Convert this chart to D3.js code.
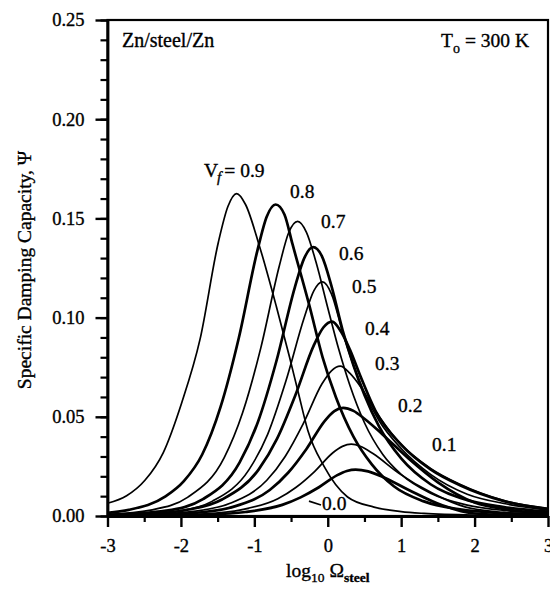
<!DOCTYPE html>
<html>
<head>
<meta charset="utf-8">
<script src="https://cdn.jsdelivr.net/npm/d3@7"></script>
<style>
  body { margin: 0; background: #fff; }
  svg text { font-family: "Liberation Serif", "Times New Roman", serif; fill: #000; stroke: #000; stroke-width: 0.35px; }
</style>
</head>
<body>
<div id="chart"></div>
<script>
// Specific damping capacity vs log10 Omega_steel, Zn/steel/Zn laminate
// values: [log10 Omega, Psi]

const vfLabels = ["0.9", "0.8", "0.7", "0.6", "0.5", "0.4", "0.3", "0.2", "0.1", "0.0"];

const vf90 = [[-3.0,0.0064],[-2.74,0.0102],[-2.49,0.018],[-2.24,0.032],[-1.99,0.057],[-1.74,0.089],[-1.49,0.138],[-1.36,0.156],[-1.24,0.1625],[-1.12,0.157],[-0.93,0.136],[-0.70,0.1056],[-0.52,0.080],[-0.40,0.062],[-0.27,0.043],[-0.05,0.025],[0.27,0.0096],[0.63,0.0045],[1.0,0.0022],[1.31,0.0013],[2.0,0.0005],[3.0,0.0002]];
const vf80 = [[-3.0,0.0016],[-2.71,0.0031],[-2.21,0.0099],[-1.96,0.0176],[-1.71,0.031],[-1.46,0.055],[-1.21,0.090],[-0.96,0.1335],[-0.83,0.151],[-0.71,0.157],[-0.59,0.152],[-0.48,0.137],[-0.25,0.106],[-0.07,0.080],[0.11,0.060],[0.35,0.040],[0.6,0.026],[0.9,0.015],[1.3,0.0075],[1.8,0.0033],[2.4,0.0014],[3.0,0.0006]];
const vf70 = [[-3.0,0.0008],[-2.41,0.003],[-1.91,0.0094],[-1.41,0.0294],[-1.16,0.052],[-0.91,0.085],[-0.66,0.126],[-0.53,0.143],[-0.41,0.1485],[-0.29,0.143],[-0.16,0.128],[0.0,0.105],[0.15,0.084],[0.3,0.066],[0.5,0.047],[0.75,0.031],[1.0,0.021],[1.4,0.0115],[1.9,0.0055],[2.4,0.0028],[3.0,0.0013]];
const vf60 = [[-3.0,0.0005],[-2.2,0.0027],[-1.7,0.0085],[-1.2,0.027],[-0.95,0.0475],[-0.70,0.078],[-0.45,0.115],[-0.32,0.130],[-0.20,0.1355],[-0.08,0.131],[0.05,0.116],[0.2,0.094],[0.35,0.076],[0.5,0.061],[0.7,0.045],[1.0,0.029],[1.4,0.016],[1.9,0.008],[2.4,0.0045],[3.0,0.0022]];
const vf50 = [[-3.0,0.0004],[-2.07,0.0024],[-1.57,0.0075],[-1.07,0.0235],[-0.82,0.041],[-0.57,0.068],[-0.32,0.100],[-0.19,0.1135],[-0.07,0.118],[0.05,0.112],[0.2,0.093],[0.35,0.076],[0.5,0.062],[0.7,0.048],[1.0,0.034],[1.4,0.021],[1.9,0.011],[2.4,0.0063],[3.0,0.003]];
const vf40 = [[-3.0,0.0004],[-2.44,0.0011],[-1.94,0.0029],[-1.44,0.0083],[-0.94,0.0235],[-0.69,0.039],[-0.44,0.061],[-0.19,0.086],[-0.06,0.095],[0.06,0.098],[0.18,0.093],[0.3,0.084],[0.45,0.070],[0.65,0.053],[1.0,0.036],[1.4,0.0235],[1.8,0.0155],[2.4,0.0075],[3.0,0.0036]];
const vf30 = [[-3.0,0.0002],[-2.33,0.0008],[-1.83,0.0023],[-1.33,0.0064],[-0.83,0.018],[-0.58,0.030],[-0.33,0.0468],[-0.08,0.0665],[0.05,0.0732],[0.17,0.0755],[0.3,0.072],[0.45,0.065],[0.65,0.053],[0.95,0.038],[1.4,0.024],[1.8,0.016],[2.4,0.0078],[3.0,0.0037]];
const vf20 = [[-3.0,0.0002],[-2.29,0.0006],[-1.79,0.0016],[-1.29,0.0046],[-0.79,0.0131],[-0.54,0.0218],[-0.29,0.0338],[-0.04,0.048],[0.09,0.0529],[0.21,0.0545],[0.35,0.053],[0.5,0.049],[0.75,0.041],[1.1,0.029],[1.5,0.017],[2.0,0.0068],[2.5,0.003],[3.0,0.0013]];
const vf10 = [[-3.0,0.0001],[-2.5,0.0002],[-1.68,0.0011],[-1.18,0.0031],[-0.68,0.0087],[-0.43,0.0145],[-0.18,0.0224],[0.07,0.0319],[0.2,0.0351],[0.32,0.0362],[0.45,0.035],[0.61,0.0316],[0.97,0.0215],[1.43,0.0114],[1.88,0.0045],[2.4,0.0018],[3.0,0.0007]];
const vf00 = [[-3.0,0.00005],[-2.5,0.0001],[-1.62,0.0007],[-1.12,0.002],[-0.62,0.0056],[-0.37,0.0094],[-0.12,0.0145],[0.13,0.0206],[0.26,0.0227],[0.38,0.0234],[0.55,0.0225],[0.75,0.0197],[1.11,0.013],[1.56,0.0054],[1.97,0.0014],[2.5,0.0004],[3.0,0.0001]];

const curves = [vf90, vf80, vf70, vf60, vf50, vf40, vf30, vf20, vf10, vf00];

const xTicks = [-3, -2, -1, 0, 1, 2, 3];
const yTicks = [0, 0.05, 0.10, 0.15, 0.20, 0.25];

const width = 550, height = 598;
const margin = {top: 20, right: 2, bottom: 82, left: 107.5};

const svg = d3.select("#chart").append("svg")
    .attr("width", width)
    .attr("height", height);

const x = d3.scaleLinear().domain([-3, 3]).range([margin.left, width - margin.right]);
const y = d3.scaleLinear().domain([0, 0.25]).range([height - margin.bottom, margin.top]);

// frame
svg.append("rect")
    .attr("x", x(-3)).attr("y", y(0.25))
    .attr("width", x(3) - x(-3)).attr("height", y(0) - y(0.25))
    .attr("fill", "none").attr("stroke", "#000").attr("stroke-width", 2.2);

// minor ticks
svg.append("g")
    .attr("transform", "translate(" + x(-3) + ",0)")
    .call(d3.axisLeft(y).tickValues(d3.range(0, 0.2501, 0.01)).tickSize(7).tickSizeOuter(0).tickFormat(""))
    .call(g => g.select(".domain").remove())
    .call(g => g.selectAll("line").attr("stroke-width", 2.2));
svg.append("g")
    .attr("transform", "translate(0," + y(0) + ")")
    .call(d3.axisBottom(x).tickValues(d3.range(-2.5, 3, 1)).tickSize(6).tickSizeOuter(0).tickFormat(""))
    .call(g => g.select(".domain").remove())
    .call(g => g.selectAll("line").attr("stroke-width", 2.2));

// Y axis
svg.append("g")
    .attr("transform", "translate(" + x(-3) + ",0)")
    .call(d3.axisLeft(y).tickValues(yTicks).tickSize(12).tickSizeOuter(0).tickPadding(11)
        .tickFormat(d3.format(".2f")))
    .call(g => g.select(".domain").attr("stroke-width", 2.8))
    .call(g => g.selectAll("line").attr("stroke-width", 2.4))
    .call(g => g.selectAll("text").style("font-size", "18.5px"));

// X axis
svg.append("g")
    .attr("transform", "translate(0," + y(0) + ")")
    .call(d3.axisBottom(x).tickValues(xTicks).tickSize(11).tickSizeOuter(0).tickPadding(12)
        .tickFormat(d => String(d)))
    .call(g => g.select(".domain").attr("stroke-width", 2.8))
    .call(g => g.selectAll("line").attr("stroke-width", 2.4))
    .call(g => g.selectAll("text").style("font-size", "18.5px"));

// curves
const line = d3.line()
    .x(d => x(d[0]))
    .y(d => y(d[1]))
    .curve(d3.curveMonotoneX);

svg.append("g")
    .selectAll("path")
    .data(curves)
    .join("path")
    .attr("d", line)
    .attr("fill", "none")
    .attr("stroke", "#000")
    .attr("stroke-linejoin", "round")
    .attr("stroke-width", (d, i) => i % 2 === 0 ? 1.7 : 2.7);

// curve labels
const labelPos = [[204,177],[290,198],[321,228],[339,260],[352,293],[365,335],[375,370],[398,412],[432,451],[322,510]];

svg.append("g")
    .selectAll("text")
    .data(vfLabels)
    .join("text")
    .attr("x", (d, i) => labelPos[i][0])
    .attr("y", (d, i) => labelPos[i][1])
    .style("font-size", "19.5px")
    .each(function(d, i) {
        const t = d3.select(this);
        if (i === 0) {
            t.append("tspan").text("V");
            t.append("tspan").attr("dy", 5).attr("dx", -1).style("font-size", "15px").style("font-style", "italic").text("f");
            t.append("tspan").attr("dy", -5).attr("dx", 3).text("= " + d);
        } else {
            t.text(d);
        }
    });

// leader for 0.0
svg.append("line")
    .attr("x1", x(vf00[6][0]) - 10).attr("y1", y(0.0075))
    .attr("x2", 321).attr("y2", 505)
    .attr("stroke", "#000").attr("stroke-width", 1.6);

// annotations
svg.append("text")
    .attr("x", 122).attr("y", 47)
    .style("font-size", "20px")
    .text("Zn/steel/Zn");

const tLabel = svg.append("text")
    .attr("x", 529).attr("y", 47)
    .attr("text-anchor", "end")
    .style("font-size", "19.5px");
tLabel.append("tspan").text("T");
tLabel.append("tspan").attr("dy", 6).style("font-size", "14px").text("o");
tLabel.append("tspan").attr("dy", -6).text(" = 300 K");

// axis titles
const xTitle = svg.append("text")
    .attr("x", x(0)).attr("y", 577)
    .attr("text-anchor", "middle")
    .style("font-size", "19.5px");
xTitle.append("tspan").text("log");
xTitle.append("tspan").attr("dy", 5).style("font-size", "13.5px").text("10");
xTitle.append("tspan").attr("dy", -5).text(" \u03A9");
xTitle.append("tspan").attr("dy", 5).style("font-size", "13.5px").style("font-weight", "bold").text("steel");

svg.append("text")
    .attr("transform", "translate(31," + 270 + ") rotate(-90)")
    .attr("text-anchor", "middle")
    .style("font-size", "19.5px")
    .text("Specific Damping Capacity, \u03A8");
</script>
</body>
</html>
